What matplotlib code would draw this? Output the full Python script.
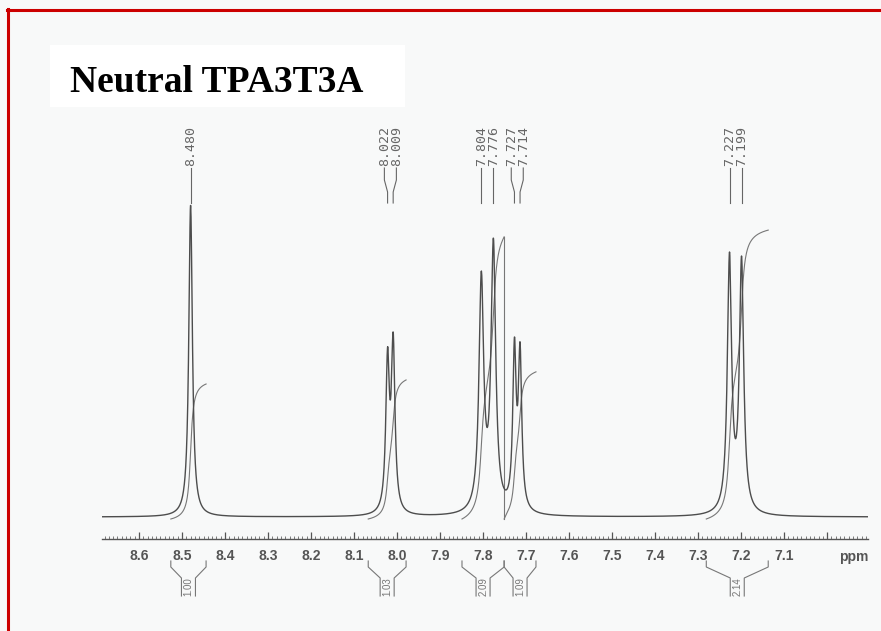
import numpy as np
import matplotlib
matplotlib.use("Agg")
import matplotlib.pyplot as plt
from matplotlib.lines import Line2D

# ---------------- data ----------------
peak_ppm = [8.480, 8.022, 8.009, 7.804, 7.776, 7.727, 7.714, 7.227, 7.199]
peak_height = [312, 170, 185, 246, 279, 180, 175, 265, 261]
peak_hwhm = [0.005, 0.005, 0.005, 0.0065, 0.0065, 0.0047, 0.0047, 0.006, 0.006]
peak_labels = ["8.480", "8.022", "8.009", "7.804", "7.776", "7.727", "7.714", "7.227", "7.199"]

integral_start = [8.526, 8.067, 7.849, 7.751, 7.281]
integral_end = [8.444, 7.979, 7.751, 7.677, 7.137]
integral_value = [1.00, 1.03, 2.09, 1.09, 2.14]
integral_text = ["1.00", "1.03", "2.09", "1.09", "2.14"]

tick_values = [8.6, 8.5, 8.4, 8.3, 8.2, 8.1, 8.0, 7.9, 7.8, 7.7, 7.6, 7.5, 7.4, 7.3, 7.2, 7.1, 7.0]
tick_labels = ["8.6", "8.5", "8.4", "8.3", "8.2", "8.1", "8.0", "7.9", "7.8", "7.7",
               "7.6", "7.5", "7.4", "7.3", "7.2", "7.1", ""]
title = "Neutral TPA3T3A"

# ---------------- figure ----------------
W, H = 881, 631
fig = plt.figure(figsize=(W / 100, H / 100), dpi=100, facecolor="#f8f9f9")

XL, XR = 8.686, 6.905          # ppm at left/right end of axis
PX_L, PX_R = 102, 868
Y_AX, Y_TOP = 539, 100        # pixel rows of axis and top of axes
BASE = 517                     # pixel row of baseline
ax = fig.add_axes([PX_L / W, 1 - Y_AX / H, (PX_R - PX_L) / W, (Y_AX - Y_TOP) / H])
ax.set_facecolor("none")
ax.set_xlim(XL, XR)
ax.set_ylim(BASE - Y_AX, BASE - Y_TOP)
for s in ["top", "left", "right"]:
    ax.spines[s].set_visible(False)
ax.spines["bottom"].set_color("#555555")
ax.spines["bottom"].set_linewidth(1.0)
ax.set_yticks([])

ppm_per_px = (XL - XR) / (PX_R - PX_L)


def py(pix):
    """pixel row -> data y"""
    return BASE - pix


# spectrum
x = np.arange(XR, XL, 0.0004)
pos = np.array(peak_ppm)
gam = np.array(peak_hwhm)


def lor(xx, x0, g):
    return 1.0 / (1.0 + ((xx - x0) / g) ** 2)


M = np.array([[lor(pi, pj, gj) for pj, gj in zip(pos, gam)] for pi in pos])
amps = np.linalg.solve(M, np.array(peak_height, float))


def spec(xx):
    return sum(a * lor(xx, p, g) for a, p, g in zip(amps, pos, gam))


y = spec(x)
ax.plot(x, y, color="#4d4d4d", lw=1.0, zorder=3)

# integral curves
K = 135.0
prev_end = None
for s, e, v in zip(integral_start, integral_end, integral_value):
    xi = np.linspace(s, e, 400)
    yi = spec(xi)
    c = np.concatenate([[0], np.cumsum((yi[1:] + yi[:-1]) / 2)])
    curve = -2 + v * K * c / c[-1]
    if prev_end is not None and abs(prev_end[0] - s) < 1e-6:
        ax.plot([s, s], [prev_end[1], curve[0]], color="#777777", lw=0.8, zorder=2)
    ax.plot(xi, curve, color="#777777", lw=0.8, zorder=2)
    prev_end = (e, curve[-1])

# axis ticks
ax.set_xticks(tick_values)
ax.set_xticklabels(tick_labels)
ax.set_xticks(np.arange(6.91, 8.69, 0.01), minor=True)
ax.tick_params(axis="x", which="major", direction="in", length=5, width=0.9,
               color="#555555", pad=7, labelsize=10, labelcolor="#555555")
ax.tick_params(axis="x", which="minor", direction="in", length=2.5, width=0.6,
               color="#666666")
for lab in ax.get_xticklabels():
    lab.set_fontfamily("Liberation Sans")
    lab.set_fontweight("bold")
ax.text(XR + 0.03 * 0 + 10 * ppm_per_px * 0, py(557), "ppm", ha="right", va="center",
        fontsize=10, fontweight="bold", color="#555555", family="Liberation Sans",
        clip_on=False)

# peak labels with lead lines
spacing = 12 * ppm_per_px
lab_pos = list(peak_ppm)
# group peaks closer than spacing into clusters and spread symmetrically
clusters = [[0]]
for i in range(1, len(peak_ppm)):
    if peak_ppm[clusters[-1][-1]] - peak_ppm[i] < spacing:
        clusters[-1].append(i)
    else:
        clusters.append([i])
for cl in clusters:
    center = np.mean([peak_ppm[i] for i in cl])
    n = len(cl)
    for k, i in enumerate(cl):
        lab_pos[i] = center + ((n - 1) / 2 - k) * spacing
for i, (p, lp, t) in enumerate(zip(peak_ppm, lab_pos, peak_labels)):
    ax.plot([lp, lp, p, p], [py(168), py(180), py(192), py(203)],
            color="#666666", lw=0.8, clip_on=False)
    ax.text(lp, py(166), t, rotation=90, ha="center", va="bottom",
            family="DejaVu Sans Mono", fontsize=9.5, color="#666666")

# integral brackets under axis
for s, e, t in zip(integral_start, integral_end, integral_text):
    xc = (s + e) / 2
    hw = 7 * ppm_per_px
    bx = [s, s, xc + hw, xc + hw]
    by = [py(561), py(567), py(578), py(596)]
    ax.plot(bx, by, color="#777777", lw=0.8, clip_on=False)
    bx = [e, e, xc - hw, xc - hw]
    ax.plot(bx, by, color="#777777", lw=0.8, clip_on=False)
    ax.text(xc, py(587), t, rotation=90, ha="center", va="center",
            family="Liberation Sans", fontsize=7, color="#777777", clip_on=False)

# title box
fig.patches.append(plt.Rectangle((50 / W, 1 - 107 / H), 355 / W, 62 / H,
                                 transform=fig.transFigure, facecolor="white",
                                 edgecolor="none", zorder=0))
fig.text(70 / W, 1 - 92 / H, title, family="Liberation Serif", fontweight="bold",
         fontsize=27, color="black", ha="left", va="baseline")

# red frame (top and left)
fig.lines.append(Line2D([7 / W, 1], [1 - 10 / H, 1 - 10 / H], transform=fig.transFigure,
                        color="#cc0000", lw=2.2))
fig.lines.append(Line2D([8 / W, 8 / W], [0, 1 - 9 / H], transform=fig.transFigure,
                        color="#cc0000", lw=2.2))

fig.savefig("out.png", dpi=100, facecolor=fig.get_facecolor())
